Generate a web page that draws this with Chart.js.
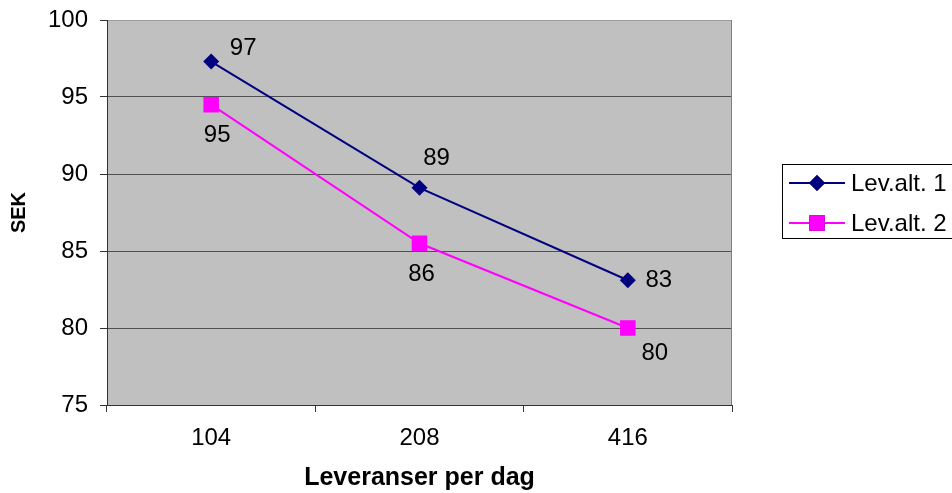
<!DOCTYPE html>
<html>
<head>
<meta charset="utf-8">
<script src="https://cdn.jsdelivr.net/npm/chart.js@4.4.0/dist/chart.umd.min.js"></script>
<style>
  html, body { margin: 0; padding: 0; background: #ffffff; }
  #wrap { width: 952px; height: 493px; position: relative; }
</style>
</head>
<body>
<div id="wrap"><canvas id="c" width="952" height="493"></canvas></div>
<script>
// Cost per delivery (SEK) for two delivery alternatives
const categories = ['104', '208', '416'];
const levAlt1 = [97.3, 89.1, 83.1];
const levAlt2 = [94.5, 85.5, 80.0];
const seriesNames = ['Lev.alt. 1', 'Lev.alt. 2'];
const yMin = 75, yMax = 100, yStep = 5;
const xTitle = 'Leveranser per dag';
const yTitle = 'SEK';

const FONT = '"Liberation Sans", Arial, sans-serif';
const NAVY = '#000080';
const MAGENTA = '#FF00FF';

// where each value label sits relative to its marker (px)
const labelOffsets = [
  [[32, -13], [17, -29], [31, 0]],
  [[6, 31], [2, 31], [27, 25]]
];

const plotBackground = {
  id: 'plotBackground',
  beforeDraw(chart) {
    const { ctx, chartArea: a } = chart;
    ctx.save();
    ctx.fillStyle = '#C0C0C0';
    ctx.fillRect(a.left, a.top, a.right - a.left, a.bottom - a.top);
    ctx.restore();
  },
  beforeDatasetsDraw(chart) {
    const { ctx, chartArea: a } = chart;
    ctx.save();
    ctx.strokeStyle = '#808080';
    ctx.lineWidth = 1;
    ctx.beginPath();
    ctx.moveTo(Math.round(a.right) - 0.5, a.top);
    ctx.lineTo(Math.round(a.right) - 0.5, a.bottom);
    ctx.stroke();
    ctx.restore();
  }
};

const valueLabels = {
  id: 'valueLabels',
  afterDatasetsDraw(chart) {
    const { ctx } = chart;
    ctx.save();
    ctx.font = '24px ' + FONT;
    ctx.fillStyle = '#000';
    ctx.textAlign = 'center';
    ctx.textBaseline = 'middle';
    chart.data.datasets.forEach((ds, di) => {
      const meta = chart.getDatasetMeta(di);
      meta.data.forEach((pt, i) => {
        const [dx, dy] = labelOffsets[di][i];
        ctx.fillText(String(Math.round(ds.data[i])), pt.x + dx, pt.y + dy);
      });
    });
    ctx.restore();
  }
};

const sideLegend = {
  id: 'sideLegend',
  afterDraw(chart) {
    const { ctx } = chart;
    const box = { x: 782.5, y: 164.5, w: 180, h: 74 };
    ctx.save();
    ctx.strokeStyle = '#000';
    ctx.lineWidth = 1;
    ctx.strokeRect(box.x, box.y, box.w, box.h);
    const rows = [183, 223];
    chart.data.datasets.forEach((ds, i) => {
      const y = rows[i];
      ctx.strokeStyle = ds.borderColor;
      ctx.lineWidth = 2;
      ctx.beginPath();
      ctx.moveTo(789, y);
      ctx.lineTo(845, y);
      ctx.stroke();
      Chart.helpers.drawPoint(ctx, {
        pointStyle: ds.pointStyle,
        radius: ds.pointRadius,
        borderWidth: 0
      }, 817, y);
      ctx.fillStyle = ds.pointBackgroundColor;
      ctx.fill();
      ctx.fillStyle = '#000';
      ctx.font = '24px ' + FONT;
      ctx.textAlign = 'left';
      ctx.textBaseline = 'middle';
      ctx.fillText(ds.label, 851, y + 1);
    });
    ctx.restore();
  }
};

new Chart(document.getElementById('c'), {
  type: 'line',
  data: {
    labels: categories,
    datasets: [
      {
        label: seriesNames[0],
        data: levAlt1,
        borderColor: NAVY,
        backgroundColor: NAVY,
        pointBackgroundColor: NAVY,
        pointBorderColor: NAVY,
        pointBorderWidth: 0,
        pointStyle: 'rectRot',
        pointRadius: 8,
        borderWidth: 2,
        tension: 0
      },
      {
        label: seriesNames[1],
        data: levAlt2,
        borderColor: MAGENTA,
        backgroundColor: MAGENTA,
        pointBackgroundColor: MAGENTA,
        pointBorderColor: MAGENTA,
        pointBorderWidth: 0,
        pointStyle: 'rect',
        pointRadius: 11,
        borderWidth: 2,
        tension: 0
      }
    ]
  },
  options: {
    responsive: false,
    animation: false,
    layout: { padding: { top: 20, right: 220, left: 0, bottom: 0 } },
    plugins: {
      legend: { display: false },
      tooltip: { enabled: false }
    },
    scales: {
      x: {
        type: 'category',
        offset: true,
        border: { display: true, color: '#333333', width: 1 },
        grid: {
          offset: true,
          drawOnChartArea: false,
          drawTicks: true,
          tickLength: 7,
          color: '#333333'
        },
        ticks: {
          color: '#000',
          font: { family: FONT, size: 24 },
          padding: 12,
          maxRotation: 0
        },
        title: {
          display: true,
          text: xTitle,
          color: '#000',
          font: { family: FONT, size: 25, weight: 'bold' },
          padding: { top: 0, bottom: 0 }
        },
        afterFit(scale) {
          scale.height = 88;
          scale.paddingLeft = 0;
          scale.paddingRight = 0;
        }
      },
      y: {
        min: yMin,
        max: yMax,
        border: { display: true, color: '#333333', width: 1 },
        grid: {
          drawOnChartArea: true,
          drawTicks: true,
          tickLength: 7,
          color: (ctx) => (ctx.tick && ctx.tick.value === yMax ? '#9a9a9a' : '#505050'),
          tickColor: '#333333'
        },
        ticks: {
          stepSize: yStep,
          color: '#000',
          font: { family: FONT, size: 24 },
          padding: 12
        },
        title: {
          display: true,
          text: yTitle,
          color: '#000',
          font: { family: FONT, size: 20, weight: 'bold' },
          padding: { top: 7, bottom: 0 }
        },
        afterFit(scale) {
          scale.width = 107;
          scale.paddingTop = 0;
          scale.paddingBottom = 0;
        }
      }
    }
  },
  plugins: [plotBackground, valueLabels, sideLegend]
});
</script>
</body>
</html>
